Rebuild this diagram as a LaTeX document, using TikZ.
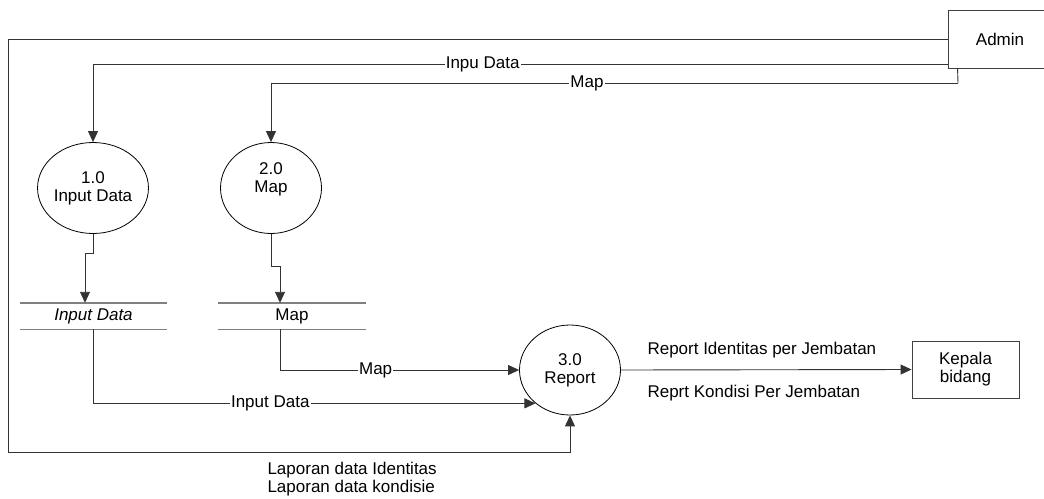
\documentclass[tikz,border=0pt]{standalone}
\usepackage{fontspec}
\setmainfont{Liberation Sans}
\usetikzlibrary{shapes.geometric,arrows.meta}
\begin{document}
\begin{tikzpicture}[x=1pt,y=1pt,
  every node/.style={font=\fontsize{17}{18}\selectfont},
  proc/.style={draw=black,line width=0.8pt,ellipse,minimum width=101pt,minimum height=91pt,inner sep=0pt,align=center},
  ent/.style={draw=black!75,line width=0.9pt,rectangle,inner sep=0pt,align=center},
  store/.style={rectangle,inner sep=0pt,minimum width=147pt,minimum height=26pt},
  storeline/.style={draw=black!50,line width=1.4pt},
  flow/.style={draw=black!80,line width=0.9pt,-{Triangle[length=11pt,width=10pt]}},
  plain/.style={draw=black!80,line width=0.9pt},
  lbl/.style={fill=white,inner sep=1pt}]
\useasboundingbox (0,0) rectangle (1044,-498);

% entities
\node[ent,minimum width=104pt,minimum height=58pt] (admin) at (1000,-39) {Admin};
\node[ent,minimum width=107pt,minimum height=57pt] (kepala) at (965.5,-369.5) {Kepala\\bidang};

% processes
\node[proc] (p1) at (93,-188) {1.0\\Input Data};
\node[proc] (p2) at (271,-188) {};
\node[align=center] (p2t) at (271,-179) {2.0\\Map};
\node[proc,minimum height=90pt] (p3) at (570,-370) {3.0\\Report};

% stores
\node[store] (s1) at (93.5,-316) {\itshape Input Data};
\node[store] (s2) at (292,-316) {Map};
\draw[storeline] (s1.north west) -- (s1.north east) (s1.south west) -- (s1.south east);
\draw[storeline] (s2.north west) -- (s2.north east) (s2.south west) -- (s2.south east);

% coordinates
\coordinate (lft) at (8,-452);
\coordinate (m1) at (958,-83);

% flows from Admin
\draw[flow] (admin.west) -| (lft) -| (p3.south);
\draw[flow] ([yshift=-25pt]admin.west) -| node[pos=0.272,lbl]{Inpu Data} (p1.north);
\draw[plain] ([xshift=10pt]admin.south west) -- (m1);
\draw[flow] (m1) -| node[pos=0.27,lbl]{Map} (p2.north);

% process to store
\draw[flow] (p1.south) -- ++(0,-20) -| ([xshift=-8.5pt]s1.north);
\draw[flow] (p2.south) -- ++(0,-33) -| ([xshift=-12pt]s2.north);

% stores to report
\draw[flow] ([xshift=-12pt]s2.south) |- node[pos=0.70,lbl]{Map} (p3.west);
\draw[flow] (s1.south) |- node[pos=0.70,lbl]{Input Data} (p3.224);

% report to kepala
\draw[flow] (p3.east) -- (kepala.west);
\node[anchor=west] (r1) at (644,-350) {Report Identitas per Jembatan};
\node[anchor=west] (r2) at (644,-393) {Reprt Kondisi Per Jembatan};

% bottom labels
\node[anchor=north west,align=left] (lap) at (264,-459) {Laporan data Identitas\\Laporan data kondisie};
\end{tikzpicture}
\end{document}
